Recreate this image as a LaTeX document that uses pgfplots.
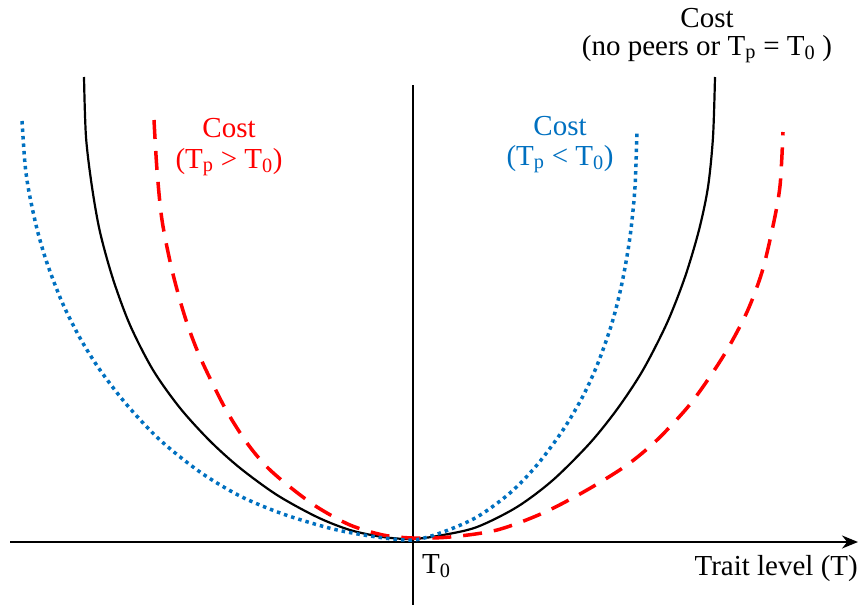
\documentclass[border=0pt]{standalone}
\usepackage{pgfplots}
\pgfplotsset{compat=1.18}
\usepackage{fontspec}
\setmainfont{Liberation Serif}
\usetikzlibrary{arrows.meta}
\definecolor{costblue}{RGB}{0,112,192}
\definecolor{costred}{RGB}{255,0,0}
\tikzset{lbl/.style={font=\fontsize{29}{34}\selectfont, inner sep=0pt, anchor=base}}

\begin{document}
\begin{tikzpicture}
\begin{axis}[
  scale only axis,
  width=862pt, height=606pt,
  xmin=0, xmax=862, ymin=0, ymax=606,
  y dir=reverse,
  axis lines=none,
  clip=false,
]
% page frame
\addplot[draw=none] coordinates {(0,0) (862,606)};
% axes
\addplot[black, line width=2pt, -{Stealth[length=16pt,width=13pt]}] coordinates {(10,542) (858,542)};
\addplot[black, line width=2pt] coordinates {(413,85) (413,605)};

% cost, no peers
\addplot[black, line width=2.2pt, smooth] coordinates {
  (84,77) (86,137) (92,187) (100,232) (113,279) (130,325) (153,370) (180,408)
  (210,441) (240,468) (277,495) (317,517) (350,530) (383,537) (413,539)
  (443,535) (477,527) (517,507) (553,480) (590,443) (618,408) (643,370)
  (667,323) (685,277) (699,230) (708,187) (713,137) (715,77)};

% cost, Tp > T0
\addplot[costred, line width=3.5pt, dash pattern=on 19pt off 12pt, smooth] coordinates {
  (154,120) (157,170) (162,220) (172,270) (185,317) (200,357) (225,408)
  (247,443) (267,467) (290,487) (317,507) (350,525) (383,535) (413,538)
  (450,537) (497,530) (543,513) (587,490) (627,465) (657,440) (687,408)
  (707,381) (727,350) (747,312) (762,272) (773,226) (780,186) (783,132)};

% cost, Tp < T0
\addplot[costblue, line width=3.5pt, dash pattern=on 3.5pt off 4pt, smooth] coordinates {
  (22,121) (25,164) (29,192) (37,229) (47,263) (62,302) (80,338) (100,370)
  (127,405) (160,440) (200,472) (240,496) (283,514) (333,529) (377,537) (413,540)
  (443,532) (477,517) (510,493) (537,465) (563,430) (583,396) (598,363)
  (612,323) (622,283) (630,237) (635,187) (637,130)};

% labels
\node[lbl, black] at (axis cs:707,27) {Cost};
\node[lbl, black] at (axis cs:707,55) {(no peers or T\textsubscript{p} = T\textsubscript{0} )};
\node[lbl, costred] at (axis cs:229,137) {Cost};
\node[lbl, costred] at (axis cs:229,168) {(T\textsubscript{p} > T\textsubscript{0})};
\node[lbl, costblue] at (axis cs:560,135) {Cost};
\node[lbl, costblue] at (axis cs:560,165) {(T\textsubscript{p} < T\textsubscript{0})};
\node[lbl, black, anchor=base west] at (axis cs:422,573) {T\textsubscript{0}};
\node[lbl, black, anchor=base east] at (axis cs:858,575) {Trait level (T)};
\end{axis}
\end{tikzpicture}
\end{document}
